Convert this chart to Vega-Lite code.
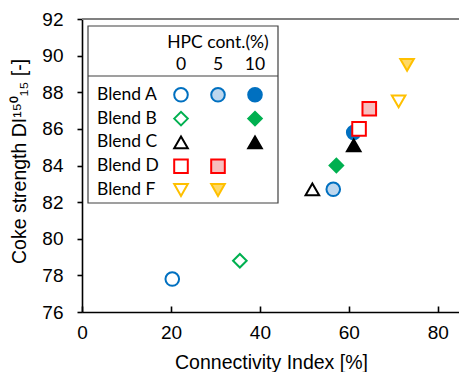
{
  "$schema": "https://vega.github.io/schema/vega-lite/v6.json",
  "width": 378,
  "height": 293,
  "autosize": "none",
  "padding": {"left": 82, "top": 19, "right": 0, "bottom": 60},
  "datasets": {
    "points": [
      {"blend": "Blend A", "hpc": "0", "series": "Blend A 0", "ci": 20.3, "di": 77.8},
      {"blend": "Blend A", "hpc": "5", "series": "Blend A 5", "ci": 56.5, "di": 82.7},
      {"blend": "Blend A", "hpc": "10", "series": "Blend A 10", "ci": 61.1, "di": 85.8},
      {"blend": "Blend B", "hpc": "0", "series": "Blend B 0", "ci": 35.5, "di": 78.8},
      {"blend": "Blend B", "hpc": "10", "series": "Blend B 10", "ci": 57.2, "di": 84.0},
      {"blend": "Blend C", "hpc": "0", "series": "Blend C 0", "ci": 51.8, "di": 82.7},
      {"blend": "Blend C", "hpc": "10", "series": "Blend C 10", "ci": 61.1, "di": 85.1},
      {"blend": "Blend D", "hpc": "0", "series": "Blend D 0", "ci": 62.3, "di": 86.0},
      {"blend": "Blend D", "hpc": "5", "series": "Blend D 5", "ci": 64.6, "di": 87.1},
      {"blend": "Blend F", "hpc": "0", "series": "Blend F 0", "ci": 71.2, "di": 87.5},
      {"blend": "Blend F", "hpc": "5", "series": "Blend F 5", "ci": 73.1, "di": 89.5}
    ],
    "legendTitle": [{"label": "HPC cont.(%)"}]
  },
  "data": {"name": "points"},
  "config": {
    "view": {"stroke": null},
    "axis": {
      "grid": false,
      "domainColor": "#000000",
      "tickColor": "#000000",
      "labelColor": "#000000",
      "titleColor": "#000000",
      "labelFont": "Liberation Sans",
      "titleFont": "Liberation Sans",
      "labelFontSize": 19,
      "titleFontSize": 19.5,
      "titleFontWeight": "normal",
      "labelFlush": false,
      "labelOverlap": false,
      "domainWidth": 1.6,
      "tickWidth": 1.6
    },
    "text": {"font": "Lato", "fontSize": 17.5, "color": "#000000"}
  },
  "layer": [
    {
      "layer": [
        {
          "mark": {"type": "point", "filled": false, "size": 185, "strokeWidth": 2, "opacity": 1},
          "encoding": {
            "x": {
              "field": "ci", "type": "quantitative",
              "scale": {"domain": [0, 85], "nice": false},
              "axis": {"values": [0, 20, 40, 60, 80], "title": "Connectivity Index [%]", "tickSize": -6, "labelPadding": 17, "titlePadding": 11}
            },
            "y": {
              "field": "di", "type": "quantitative",
              "scale": {"domain": [76, 92], "nice": false, "zero": false},
              "axis": {"values": [76, 78, 80, 82, 84, 86, 88, 90, 92], "title": "Coke strength DI¹⁵⁰₁₅ [-]", "tickSize": 5, "labelPadding": 14, "titlePadding": 12, "titleY": 142}
            },
            "shape": {
              "field": "blend", "type": "nominal", "legend": null,
              "scale": {"domain": ["Blend A", "Blend B", "Blend C", "Blend D", "Blend F"], "range": ["circle", "diamond", "triangle-up", "square", "triangle-down"]}
            },
            "stroke": {
              "field": "blend", "type": "nominal", "legend": null,
              "scale": {"domain": ["Blend A", "Blend B", "Blend C", "Blend D", "Blend F"], "range": ["#0070C0", "#00B050", "#000000", "#FF0000", "#FFC000"]}
            },
            "fill": {
              "field": "series", "type": "nominal", "legend": null,
              "scale": {
                "domain": ["Blend A 0", "Blend A 5", "Blend A 10", "Blend B 0", "Blend B 10", "Blend C 0", "Blend C 10", "Blend D 0", "Blend D 5", "Blend F 0", "Blend F 5"],
                "range": ["#FFFFFF", "#BDD7EE", "#0070C0", "#FFFFFF", "#00B050", "#FFFFFF", "#000000", "#FFFFFF", "#F7BFBF", "#FFFFFF", "#FFD966"]
              }
            }
          }
        },
        {
          "data": {"name": "legendTitle"},
          "mark": {"type": "rule", "stroke": "#808080", "strokeWidth": 2},
          "encoding": {
            "y": {
              "datum": 92, "type": "quantitative",
              "scale": {"domain": [76, 92], "nice": false, "zero": false},
              "axis": {"values": [76, 78, 80, 82, 84, 86, 88, 90, 92], "title": "Coke strength DI¹⁵⁰₁₅ [-]", "tickSize": 5, "labelPadding": 14, "titlePadding": 12, "titleY": 142}
            }
          }
        }
      ]
    },
    {
      "layer": [
        {
          "data": {"name": "legendTitle"},
          "mark": {"type": "rect", "fill": "#FFFFFF", "stroke": "#404040", "strokeWidth": 1.2, "xOffset": -93, "x2Offset": 23, "yOffset": -45, "y2Offset": 13},
          "encoding": {
            "x": {"datum": "0", "type": "nominal", "scale": {"type": "point", "padding": 0, "domain": ["0", "5", "10"], "range": [99, 173]}, "axis": null},
            "x2": {"datum": "10"},
            "y": {"datum": "hdr", "type": "nominal", "scale": {"type": "point", "padding": 0, "domain": ["hdr", "Blend A", "Blend B", "Blend C", "Blend D", "Blend F"], "range": [52, 171]}, "axis": null},
            "y2": {"datum": "Blend F"}
          }
        },
        {
          "data": {"name": "legendTitle"},
          "mark": {"type": "rule", "stroke": "#404040", "strokeWidth": 1.2, "xOffset": -93, "x2Offset": 23, "yOffset": 5},
          "encoding": {
            "x": {"datum": "0", "type": "nominal", "axis": null},
            "x2": {"datum": "10"},
            "y": {"datum": "hdr", "type": "nominal", "axis": null}
          }
        },
        {
          "data": {"name": "legendTitle"},
          "mark": {"type": "text", "align": "center", "baseline": "middle", "dy": -28},
          "encoding": {
            "x": {"datum": "5", "type": "nominal", "axis": null},
            "y": {"datum": "hdr", "type": "nominal", "axis": null},
            "text": {"field": "label"}
          }
        },
        {
          "transform": [{"aggregate": [{"op": "count", "as": "n"}], "groupby": ["hpc"]}],
          "mark": {"type": "text", "align": "center", "baseline": "middle", "dy": -6},
          "encoding": {
            "x": {"field": "hpc", "type": "nominal", "axis": null},
            "y": {"datum": "hdr", "type": "nominal", "axis": null},
            "text": {"field": "hpc"}
          }
        },
        {
          "transform": [{"aggregate": [{"op": "count", "as": "n"}], "groupby": ["blend"]}],
          "mark": {"type": "text", "align": "left", "baseline": "middle", "dx": -84},
          "encoding": {
            "x": {"datum": "0", "type": "nominal", "axis": null},
            "y": {"field": "blend", "type": "nominal", "axis": null},
            "text": {"field": "blend"}
          }
        },
        {
          "mark": {"type": "point", "filled": false, "size": 185, "strokeWidth": 2, "opacity": 1},
          "encoding": {
            "x": {"field": "hpc", "type": "nominal", "axis": null},
            "y": {"field": "blend", "type": "nominal", "axis": null},
            "shape": {"field": "blend", "type": "nominal", "legend": null},
            "stroke": {"field": "blend", "type": "nominal", "legend": null},
            "fill": {"field": "series", "type": "nominal", "legend": null}
          }
        }
      ]
    }
  ],
  "resolve": {"scale": {"x": "independent", "y": "independent"}}
}
